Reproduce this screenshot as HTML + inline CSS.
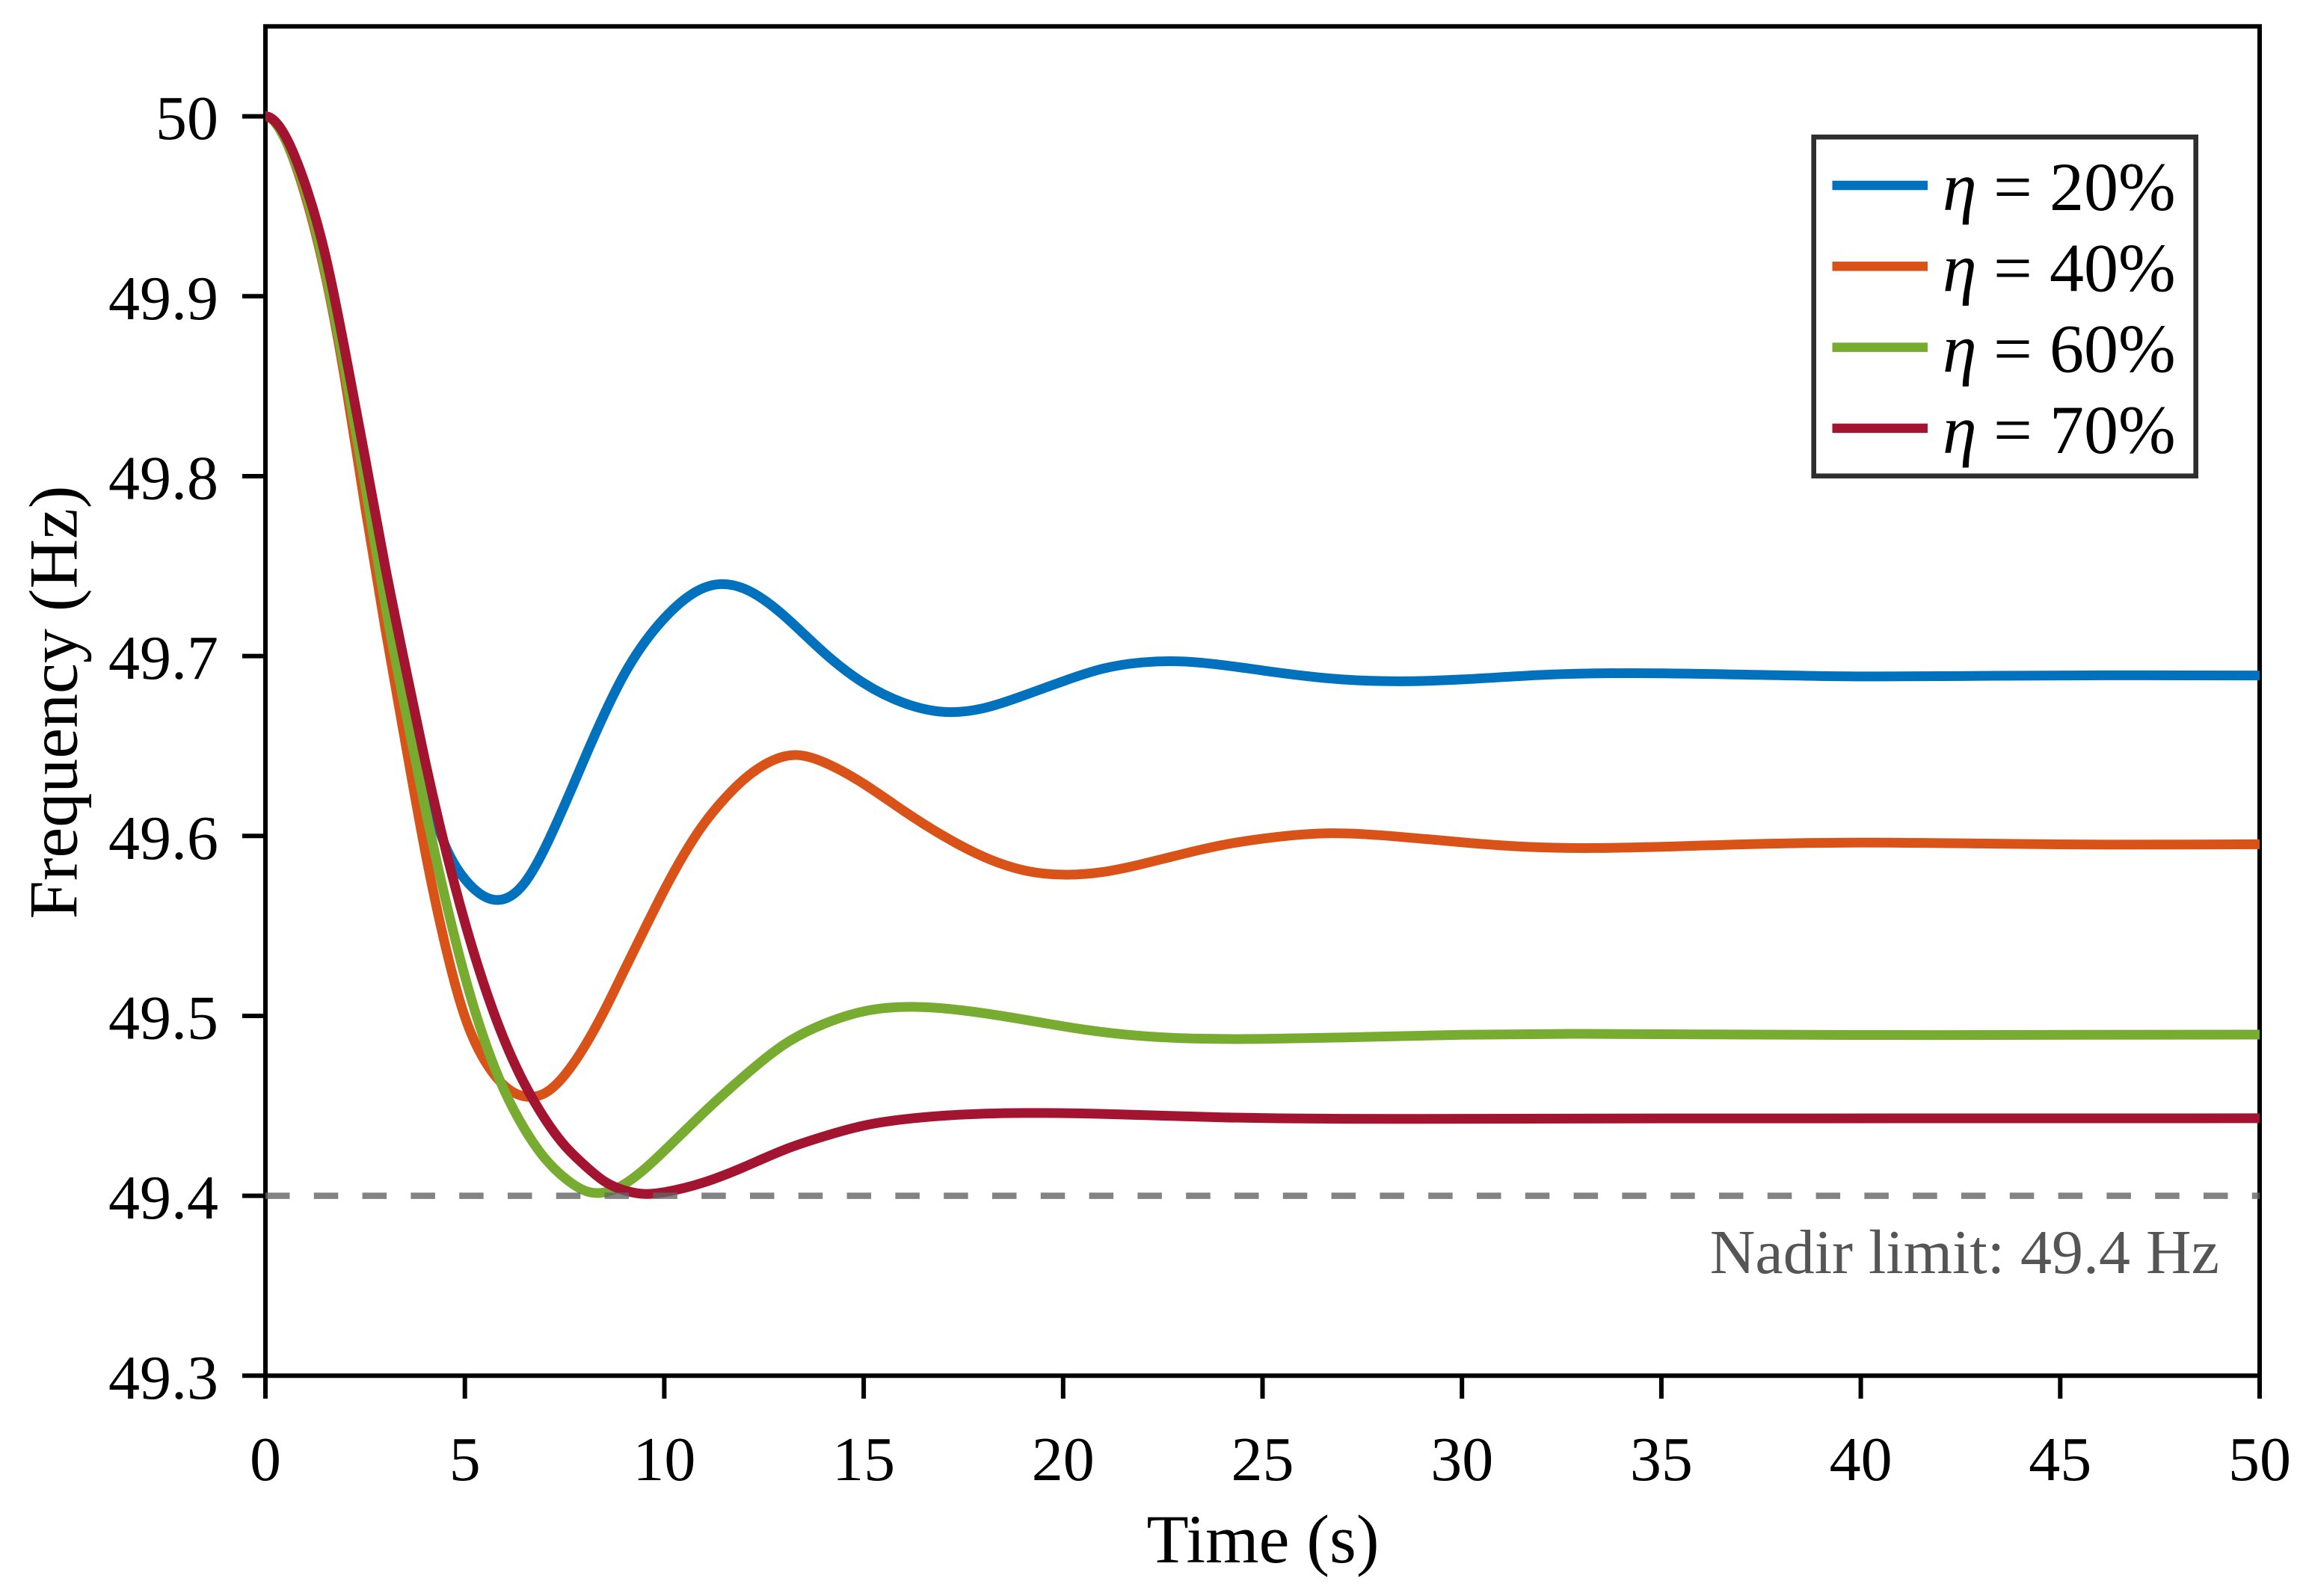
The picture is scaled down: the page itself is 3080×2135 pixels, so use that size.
<!DOCTYPE html>
<html lang="en">
<head>
<meta charset="utf-8">
<title>Frequency response</title>
<style>
html,body{margin:0;padding:0;background:#fff;}
svg{display:block;}
text{font-family:"Liberation Serif","Times New Roman",serif;fill:#000;}
</style>
</head>
<body>
<svg id="chart" xmlns="http://www.w3.org/2000/svg" width="3080" height="2135" viewBox="0 0 3080 2135">
  <rect x="0" y="0" width="3080" height="2135" fill="#fff"/>
  <g id="axes"></g>
  <g id="series"></g>
  <g id="limit"></g>
  <text x="1689" y="2090" font-size="92" text-anchor="middle">Time (s)</text>
  <text transform="translate(102.5 939.5) rotate(-90)" font-size="92" text-anchor="middle">Frequency (Hz)</text>
  <g id="legend"></g>
</svg>
<script>
const xTickValues = [0,5,10,15,20,25,30,35,40,45,50];
const yTickValues = [49.3,49.4,49.5,49.6,49.7,49.8,49.9,50];
const yTickLabels = ["49.3","49.4","49.5","49.6","49.7","49.8","49.9","50"];
const nadirLimit = 49.4;
const nadirLabel = "Nadir limit: 49.4 Hz";

const tEta20 = [0,0.5,1,1.5,2,2.5,3,3.5,4,4.5,5,5.75,6.5,7,8,9,10,11,11.42,12,13,14,15,16,17,18,19,20,21,22,23,24,25,27,28.5,30,32,34.2,37,40,43,46,50];
const fEta20 = [50,49.988,49.96,49.919,49.864,49.804,49.742,49.686,49.632,49.595,49.576,49.5645,49.574,49.593,49.643,49.69,49.721,49.738,49.74,49.7375,49.7225,49.702,49.685,49.674,49.669,49.671,49.678,49.686,49.693,49.6965,49.697,49.695,49.692,49.687,49.686,49.687,49.6895,49.6905,49.6897,49.6887,49.689,49.6893,49.6892];

const tEta40 = [0,0.5,1,1.5,2,2.5,3,3.5,4,4.5,5,5.5,6,6.67,7,7.5,8,8.5,9,9.5,10,10.5,11,11.5,12,12.5,13.3,14,15,16,17,18,19,20,21,22,23,24,25,26.6,28.2,30,31.6,33.3,36.5,39.7,43,46.2,50];
const fEta40 = [50,49.987,49.956,49.912,49.853,49.783,49.716,49.653,49.592,49.54,49.4995,49.475,49.461,49.455,49.457,49.467,49.483,49.503,49.5255,49.548,49.57,49.59,49.607,49.6205,49.6315,49.6395,49.645,49.641,49.629,49.614,49.6,49.5885,49.581,49.5785,49.58,49.5845,49.59,49.595,49.5985,49.6015,49.6,49.5965,49.594,49.5933,49.595,49.5963,49.5958,49.5952,49.5954];

const tEta60 = [0,0.5,1,1.5,2,2.5,3,3.5,4,4.5,5,5.5,6,6.5,7,7.5,8.13,9,10,11,12,13,14,15,16.2,17.5,19,20.5,22,23.5,25,27,30,33,36,40,50];
const fEta60 = [50,49.987,49.958,49.914,49.858,49.795,49.729,49.671,49.616,49.566,49.522,49.486,49.458,49.437,49.421,49.41,49.402,49.4065,49.425,49.4465,49.4665,49.484,49.4955,49.5025,49.505,49.503,49.498,49.4925,49.4888,49.4873,49.4872,49.488,49.4895,49.49,49.4897,49.4894,49.4896];

const tEta70 = [0,0.5,1,1.5,2,2.5,3,3.5,4,4.5,5,5.5,6,6.5,7,7.5,8,8.5,9,9.55,10,11,12,13,14,15,16,17,19,21,24,27,30,35,50];
const fEta70 = [50,49.989,49.962,49.923,49.869,49.81,49.75,49.695,49.642,49.594,49.552,49.516,49.486,49.462,49.443,49.428,49.417,49.408,49.403,49.401,49.402,49.4075,49.416,49.4255,49.433,49.439,49.4425,49.4445,49.446,49.4455,49.4436,49.4428,49.4428,49.443,49.4431];

const legendLabels = ["20%","40%","60%","70%"];

const SVG_NS = "http://www.w3.org/2000/svg";
const plotLeft = 355, plotRight = 3022, plotTop = 35.3, plotBottom = 1840.3;
const xMin = 0, xMax = 50, yMin = 49.3, yMax = 50.05;
function xScale(t){ return plotLeft + (t - xMin) / (xMax - xMin) * (plotRight - plotLeft); }
function yScale(f){ return plotBottom - (f - yMin) / (yMax - yMin) * (plotBottom - plotTop); }
function make(tag, attrs, parent){
  const el = document.createElementNS(SVG_NS, tag);
  for (const k in attrs) el.setAttribute(k, attrs[k]);
  parent.appendChild(el);
  return el;
}
// Cubic spline through the read values: zero slope at the start, natural at the end.
function smoothPath(ts, fs){
  const px = ts.map(xScale), py = fs.map(yScale), n = px.length;
  const h = [];
  for (let i = 0; i < n-1; i++) h.push(px[i+1]-px[i]);
  const a = new Array(n).fill(0), b = new Array(n).fill(0), c = new Array(n).fill(0), r = new Array(n).fill(0);
  b[0] = 2*h[0]; c[0] = h[0]; r[0] = 6*(py[1]-py[0])/h[0];
  for (let i = 1; i < n-1; i++){
    a[i] = h[i-1]; b[i] = 2*(h[i-1]+h[i]); c[i] = h[i];
    r[i] = 6*((py[i+1]-py[i])/h[i] - (py[i]-py[i-1])/h[i-1]);
  }
  b[n-1] = 1;
  for (let i = 1; i < n; i++){
    const w = a[i]/b[i-1];
    b[i] -= w*c[i-1];
    r[i] -= w*r[i-1];
  }
  const M = new Array(n).fill(0);
  M[n-1] = r[n-1]/b[n-1];
  for (let i = n-2; i >= 0; i--) M[i] = (r[i]-c[i]*M[i+1])/b[i];
  let d = "M" + px[0].toFixed(2) + " " + py[0].toFixed(2);
  for (let i = 0; i < n-1; i++){
    const s = (py[i+1]-py[i])/h[i];
    const m0 = s - h[i]*(2*M[i]+M[i+1])/6;
    const m1 = s + h[i]*(M[i]+2*M[i+1])/6;
    d += "C" + (px[i]+h[i]/3).toFixed(2) + " " + (py[i]+m0*h[i]/3).toFixed(2) + " " +
         (px[i+1]-h[i]/3).toFixed(2) + " " + (py[i+1]-m1*h[i]/3).toFixed(2) + " " +
         px[i+1].toFixed(2) + " " + py[i+1].toFixed(2);
  }
  return d;
}

const axes = document.getElementById("axes");
const frame = make("rect", {x:plotLeft, y:plotTop, width:plotRight-plotLeft, height:plotBottom-plotTop, fill:"none", stroke:"#000", "stroke-width":6}, axes);



xTickValues.forEach(function(v){
  const x = xScale(v);
  const tick = make("line", {x1:x, x2:x, y1:plotBottom, y2:1871, stroke:"#000", "stroke-width":6}, axes);
  
  
  const label = make("text", {x:x, y:1980, "font-size":84, "text-anchor":"middle"}, axes);
  
  
  label.textContent = String(v);
});
yTickValues.forEach(function(v, i){
  const y = yScale(v);
  const tick = make("line", {x1:324, x2:plotLeft, y1:y, y2:y, stroke:"#000", "stroke-width":6}, axes);
  
  
  const label = make("text", {x:292, y:y+30.5, "font-size":84, "text-anchor":"end"}, axes);
  
  
  label.textContent = yTickLabels[i];
});

const seriesGroup = document.getElementById("series");
const line20 = make("path", {d:smoothPath(tEta20,fEta20), fill:"none", stroke:"#0072BD", "stroke-width":13}, seriesGroup);


const line40 = make("path", {d:smoothPath(tEta40,fEta40), fill:"none", stroke:"#D95319", "stroke-width":13}, seriesGroup);


const line60 = make("path", {d:smoothPath(tEta60,fEta60), fill:"none", stroke:"#77AC30", "stroke-width":13}, seriesGroup);


const line70 = make("path", {d:smoothPath(tEta70,fEta70), fill:"none", stroke:"#A2142F", "stroke-width":13}, seriesGroup);



const limitGroup = document.getElementById("limit");
const limitLine = make("line", {x1:plotLeft, x2:plotRight, y1:yScale(nadirLimit), y2:yScale(nadirLimit), stroke:"#646464", "stroke-opacity":0.8, "stroke-width":8.5, "stroke-dasharray":"32.5 32.3"}, limitGroup);


const limitText = make("text", {x:2968, y:1703, "font-size":84, "text-anchor":"end", style:"fill:#555"}, limitGroup);


limitText.textContent = nadirLabel;

const legend = document.getElementById("legend");
const legendBox = make("rect", {x:2425.7, y:183.3, width:511, height:453.4, fill:"#fff", stroke:"#2e2e2e", "stroke-width":6.6}, legend);


const legendColors = ["#0072BD","#D95319","#77AC30","#A2142F"];
legendLabels.forEach(function(lab, i){
  const ly = 248 + i * 108.3;
  const swatch = make("line", {x1:2450.5, x2:2578, y1:ly, y2:ly, stroke:legendColors[i], "stroke-width":12.5}, legend);
  
  
  const entry = make("text", {y:ly+33, "font-size":92}, legend);
  
  
  const eta = make("tspan", {x:2598, "font-style":"italic"}, entry);
  eta.textContent = "\u03B7";
  const eq = make("tspan", {x:2666}, entry);
  eq.textContent = "=";
  const val = make("tspan", {x:2741}, entry);
  val.textContent = lab;
});
</script>
</body>
</html>
